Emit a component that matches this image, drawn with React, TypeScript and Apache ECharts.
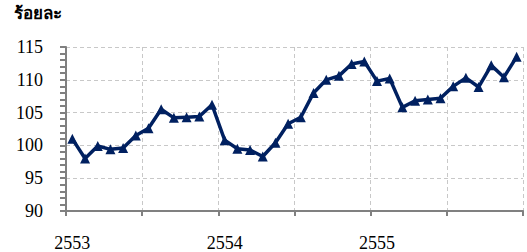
import React, { useEffect, useRef } from "react";
import * as echarts from "echarts";

const years = ["2553", "2554", "2555"];
const months = ["01", "02", "03", "04", "05", "06", "07", "08", "09", "10", "11", "12"];
const categories: string[] = years.flatMap((y) => months.map((m) => `${y}-${m}`));

const values: number[] = [
  101.0, 98.0, 99.9, 99.4, 99.6, 101.5, 102.6, 105.5, 104.2, 104.3, 104.4, 106.2,
  100.8, 99.5, 99.3, 98.3, 100.4, 103.3, 104.3, 108.0, 110.0, 110.6, 112.4, 112.8,
  109.8, 110.2, 105.8, 106.8, 107.0, 107.2, 109.0, 110.3, 108.9, 112.2, 110.4, 113.5,
];

const yTitle = "ร้อยละ";

export default function App() {
  const ref = useRef<HTMLDivElement>(null);
  useEffect(() => {
    if (!ref.current) return;
    const chart = echarts.init(ref.current, null, { renderer: "svg" });
    const axisGrey = "#808080";
    chart.setOption({
      animation: false,
      grid: { left: 66, right: 4, top: 47, bottom: 38 },
      graphic: [
        {
          type: "text",
          left: 14,
          top: 5,
          style: {
            text: yTitle,
            font: "bold 17px sans-serif",
            fill: "#000",
          },
        },
      ],
      xAxis: {
        type: "category",
        data: categories,
        boundaryGap: true,
        axisLine: { lineStyle: { color: axisGrey, width: 2 } },
        axisTick: { show: true, interval: 5, length: 5, lineStyle: { color: axisGrey, width: 2 } },
        axisLabel: {
          interval: 11,
          margin: 23,
          color: "#000",
          fontFamily: "Liberation Serif, Times New Roman, serif",
          fontSize: 18,
          formatter: (v: string) => v.split("-")[0],
        },
        splitLine: {
          show: true,
          interval: 5,
          lineStyle: { color: "#c8c8c8", type: [4, 3], width: 1 },
        },
      },
      yAxis: {
        type: "value",
        min: 90,
        max: 115,
        interval: 5,
        axisLine: { show: true, lineStyle: { color: axisGrey, width: 2 } },
        axisTick: { show: true, inside: false, length: 6, lineStyle: { color: axisGrey, width: 2 } },
        minorTick: { show: true, splitNumber: 5, length: 6, lineStyle: { color: axisGrey, width: 2 } },
        axisLabel: {
          margin: 23,
          color: "#000",
          fontFamily: "Liberation Serif, Times New Roman, serif",
          fontSize: 18,
        },
        splitLine: {
          show: true,
          lineStyle: { color: "#c8c8c8", type: [4, 3], width: 1 },
        },
      },
      series: [
        {
          type: "line",
          data: values,
          symbol: "triangle",
          symbolSize: 10,
          showSymbol: true,
          showAllSymbol: true,
          lineStyle: { color: "#002060", width: 3.5 },
          itemStyle: { color: "#002060" },
        },
      ],
    });
    return () => chart.dispose();
  }, []);
  return <div ref={ref} style={{ width: 527, height: 252, position: "absolute", left: 0, top: 0 }} />;
}
